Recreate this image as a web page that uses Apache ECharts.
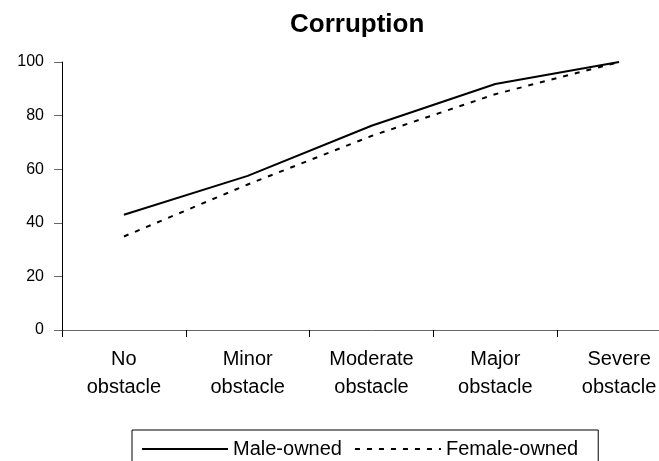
<!DOCTYPE html>
<html>
<head>
	<meta charset="utf-8" />
	<title>Corruption</title>
	<script src="https://cdn.jsdelivr.net/npm/echarts@6/dist/echarts.min.js"></script>
	<style>
		html, body { margin: 0; padding: 0; background: #fff; overflow: hidden; }
		/* the original chart is cropped on the right, so the canvas runs past the window */
		#chartmain { width: 681px; height: 461px; }
	</style>
</head>
<body>
	<div id="chartmain"></div>
</body>
<script type="text/javascript">
	// categories and series values
	var categories = ['No\nobstacle', 'Minor\nobstacle', 'Moderate\nobstacle', 'Major\nobstacle', 'Severe\nobstacle'];
	var maleOwned = [43, 57.5, 76.2, 91.8, 100];
	var femaleOwned = [34.9, 54.3, 72.4, 88, 100];
	var seriesNames = ['Male-owned', 'Female-owned'];

	var font = 'Liberation Sans, Arial, sans-serif';
	var myChart = echarts.init(document.getElementById('chartmain'));

	var option = {
		animation: false,
		title: {
			text: 'Corruption',
			left: 285,
			top: 7,
			textStyle: { fontFamily: font, fontSize: 26, fontWeight: 'bold', color: '#000' }
		},
		legend: {
			data: seriesNames,
			left: 132,
			top: 430,
			orient: 'horizontal',
			padding: [9, 20, 12, 9],
			itemWidth: 86,
			itemHeight: 14,
			itemGap: 12,
			borderColor: '#000',
			borderWidth: 1,
			itemStyle: { opacity: 0 },
			textStyle: { fontFamily: font, fontSize: 20, color: '#000' }
		},
		grid: {
			left: 62,
			top: 62,
			right: 0,
			height: 268,
			containLabel: false
		},
		xAxis: {
			type: 'category',
			data: categories,
			boundaryGap: true,
			axisLine: { lineStyle: { color: '#666', width: 1 } },
			axisTick: { show: true, length: 7, inside: false, lineStyle: { color: '#000' } },
			axisLabel: {
				fontFamily: font, fontSize: 20, color: '#000',
				lineHeight: 28, margin: 15, interval: 0
			},
			splitLine: { show: false }
		},
		yAxis: {
			type: 'value',
			min: 0,
			max: 100,
			interval: 20,
			axisLine: { show: true, lineStyle: { color: '#000', width: 1 } },
			axisTick: { show: true, length: 8, lineStyle: { color: '#666' } },
			axisLabel: { fontFamily: font, fontSize: 16, color: '#000', margin: 18 },
			splitLine: { show: false }
		},
		series: [
			{
				name: seriesNames[0],
				type: 'line',
				data: maleOwned,
				symbol: 'none',
				lineStyle: { color: '#000', width: 2, type: 'solid' },
				itemStyle: { color: '#000' }
			},
			{
				name: seriesNames[1],
				type: 'line',
				data: femaleOwned,
				symbol: 'none',
				lineStyle: { color: '#000', width: 2, type: [5, 7] },
				itemStyle: { color: '#000' }
			}
		]
	};
	myChart.setOption(option);
</script>
</html>
